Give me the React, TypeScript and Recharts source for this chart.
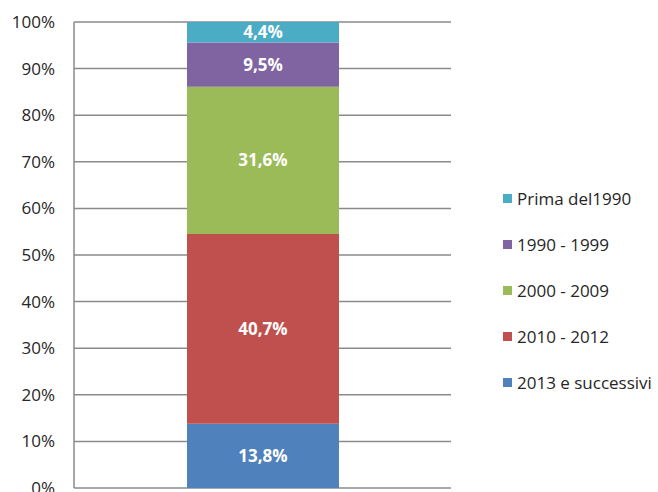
import { BarChart, Bar, XAxis, YAxis, CartesianGrid, LabelList } from "recharts";

const categories = ["Totale"];
const seriesNames = ["2013 e successivi", "2010 - 2012", "2000 - 2009", "1990 - 1999", "Prima del1990"];
const seriesValues = [13.8, 40.7, 31.6, 9.5, 4.4];
const seriesColors = ["#4F81BD", "#C0504D", "#9BBB59", "#8064A2", "#4BACC6"];
const yTicks = [0, 10, 20, 30, 40, 50, 60, 70, 80, 90, 100];

const FONT = "'Open Sans', sans-serif";

const chartData = categories.map((c) => {
  const row: Record<string, string | number> = { name: c };
  seriesNames.forEach((s, i) => {
    row[s] = seriesValues[i];
  });
  return row;
});

// legend sits to the right of the plot, top entry = top of the stack
function SideLegend() {
  const items = seriesNames.map((n, i) => ({ name: n, color: seriesColors[i] })).reverse();
  return (
    <div style={{ position: "absolute", left: 503, top: 186, display: "flex", flexDirection: "column", gap: 21 }}>
      {items.map((it) => (
        <div key={it.name} style={{ display: "flex", alignItems: "center", height: 25, fontFamily: FONT, fontSize: 17, color: "#262626", whiteSpace: "nowrap" }}>
          <span style={{ width: 9, height: 9, background: it.color, display: "inline-block", marginRight: 5 }} />
          {it.name}
        </div>
      ))}
    </div>
  );
}

export default function App() {
  return (
    <div style={{ position: "absolute", left: 0, top: 0, width: 658, height: 492, background: "#fff" }}>
      <BarChart width={658} height={492} data={chartData} margin={{ top: 22, right: 207, left: 0, bottom: 4 }}>
        <CartesianGrid horizontal vertical={false} stroke="#8a8a8a" strokeWidth={1.5} />
        <XAxis dataKey="name" tick={false} tickLine={false} axisLine={{ stroke: "#8a8a8a", strokeWidth: 1.5 }} height={0} />
        <YAxis
          width={74}
          domain={[0, 100]}
          ticks={yTicks}
          interval={0}
          tickFormatter={(v: number) => `${v}%`}
          tickLine={false}
          tickSize={6}
          tickMargin={13}
          axisLine={{ stroke: "#8a8a8a", strokeWidth: 1.5 }}
          tick={{ fontFamily: FONT, fontSize: 17, fill: "#262626" }}
        />
        {seriesNames.map((s, i) => (
          <Bar key={s} dataKey={s} stackId="a" fill={seriesColors[i]} barSize={152} isAnimationActive={false}>
            <LabelList
              dataKey={s}
              position="center"
              formatter={(v: number) => `${v.toFixed(1).replace(".", ",")}%`}
              style={{ fontFamily: FONT, fontSize: 17, fontWeight: 700, fill: "#fff" }}
            />
          </Bar>
        ))}
      </BarChart>
      <SideLegend />
    </div>
  );
}
